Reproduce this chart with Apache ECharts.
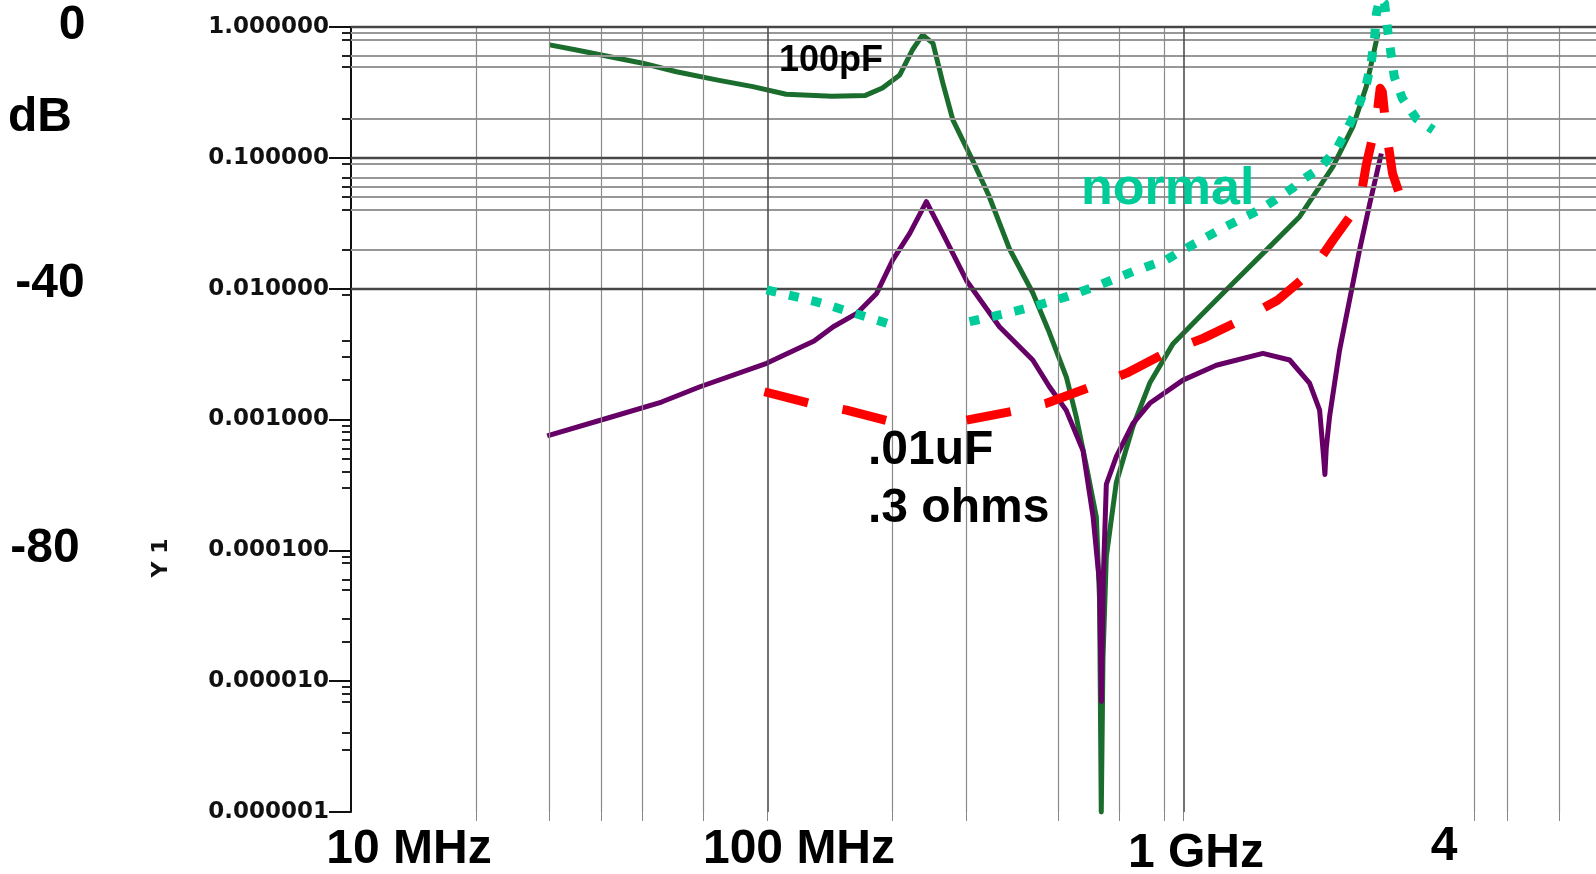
<!DOCTYPE html>
<html>
<head>
<meta charset="utf-8">
<title>Y1 vs frequency</title>
<script src="https://cdn.jsdelivr.net/npm/echarts@6/dist/echarts.min.js"></script>
<style>
  html, body { margin: 0; padding: 0; background: #fff; }
  #chart { width: 1596px; height: 874px; }
</style>
</head>
<body>
<div id="chart"></div>
<script>
// frequency in MHz, Y1 as a plain ratio (log axes)

// grid lines / ticks
const yMajor = [1, 0.1, 0.01, 0.001, 0.0001, 0.00001, 0.000001];
const yMinor = [
  0.9, 0.8, 0.6, 0.5, 0.2,
  0.09, 0.07, 0.06, 0.05, 0.04, 0.02,
  0.009, 0.004, 0.003, 0.002,
  0.0009, 0.0008, 0.0007, 0.0006, 0.0005, 0.0004, 0.0003,
  0.00009, 0.00008, 0.00006, 0.00005, 0.00003, 0.00002,
  0.000009, 0.000008, 0.000007, 0.000004, 0.000003
];
const xMajor = [100, 1000];
const xMinor = [20, 30, 40, 50, 70, 200, 300, 500, 700, 900, 5000, 6000, 8000];

// 100pF curve (green)
const greenFreq = [30, 34.8, 41.9, 50.2, 60.5, 75.5, 92.3, 111, 143, 172, 189, 208, 223, 236, 250, 264, 279, 311,
  340, 382, 434, 476, 523, 552, 584, 617, 628, 634, 640, 652, 689, 755, 829, 943, 1092, 1313, 1579, 1899,
  2283, 2550, 2745, 2930];
const greenY1 = [0.73, 0.667, 0.593, 0.528, 0.455, 0.394, 0.35, 0.306, 0.295, 0.30, 0.342, 0.43, 0.667, 0.87, 0.75,
  0.373, 0.195, 0.096, 0.052, 0.020, 0.0093, 0.0046, 0.0021, 0.00105, 0.00044, 0.00018, 0.000042, 0.000001,
  0.000015, 0.00009, 0.00033, 0.00088, 0.0019, 0.0038, 0.0061, 0.011, 0.0197, 0.0355, 0.0855, 0.173, 0.35, 0.90];

// purple curve
const purpleFreq = [29.6, 42, 55.7, 68.9, 99.6, 129.5, 144, 164, 183, 200, 220, 241, 264, 301, 361, 434, 476, 522,
  573, 606, 628, 634.5, 641, 652, 689, 755, 829, 996, 1198, 1550, 1797, 2006, 2121, 2170, 2184, 2200, 2241,
  2369, 2503, 2646, 2800, 2984];
const purpleY1 = [0.00075, 0.00104, 0.00136, 0.00178, 0.00269, 0.00398, 0.00512, 0.00647, 0.0092, 0.0165, 0.0266,
  0.0462, 0.0263, 0.0115, 0.00512, 0.00285, 0.00178, 0.00118, 0.00058, 0.00018, 0.000056, 0.000007, 0.00006,
  0.00032, 0.00052, 0.00093, 0.00133, 0.0020, 0.0026, 0.0032, 0.00285, 0.0019, 0.00118, 0.0005, 0.00038,
  0.0006, 0.00105, 0.0034, 0.0082, 0.0198, 0.045, 0.108];

// "normal" (dotted), drawn in two pieces
const normalFreqA = [99.6, 130, 144, 200];
const normalY1A = [0.0098, 0.0080, 0.00728, 0.00527];
const normalFreqB = [306, 361, 434.5, 523, 628, 755, 908, 978, 1230, 1541, 1824, 1899, 2121, 2323, 2477, 2617,
  2745, 2823, 2874, 2904, 2960, 3037, 3090, 3147, 3205, 3352, 3620, 3976];
const normalY1B = [0.00559, 0.0063, 0.00728, 0.00868, 0.01067, 0.0135, 0.0166, 0.0191, 0.0286, 0.0409, 0.0585,
  0.0657, 0.083, 0.115, 0.168, 0.239, 0.36, 0.543, 0.82, 1.27, 1.65, 1.52, 0.95, 0.63, 0.417, 0.285, 0.2, 0.163];

// .01uF / .3 ohms (dashed), two pieces
const capFreqA = [98.4, 126.5, 155, 198.6];
const capY1A = [0.00163, 0.00133, 0.00118, 0.00096];
const capFreqB = [301, 385, 468, 600, 729, 917, 1113, 1401, 1684, 2025, 2283, 2646, 2745, 2900, 2965, 3000,
  3073, 3174, 3294, 3484];
const capY1B = [0.00099, 0.00115, 0.00133, 0.00178, 0.00226, 0.0033, 0.00417, 0.00593, 0.0082, 0.0135, 0.0235,
  0.0449, 0.088, 0.189, 0.34, 0.32, 0.154, 0.076, 0.0536, 0.0388];

const dbLabels = ['0', 'dB', '-40', '-80'];
const freqLabels = ['10 MHz', '100 MHz', '1 GHz', '4'];

const GREEN = '#1b6d2d';
const PURPLE = '#660066';
const TEAL = '#00cc99';
const RED = '#ff0000';

const pairs = (xs, ys) => xs.map((x, i) => [x, ys[i]]);

const chart = echarts.init(document.getElementById('chart'));

const gridLines = [
  ...yMinor.map(v => ({ yAxis: v, lineStyle: { color: '#979797', width: 2, type: 'solid' } })),
  ...xMinor.map(v => ({ xAxis: v, lineStyle: { color: '#8a8a8a', width: 1.2, type: 'solid' } })),
  ...xMajor.map(v => ({ xAxis: v, lineStyle: { color: '#4e4e4e', width: 1.6, type: 'solid' } })),
  ...yMajor.map(v => ({ yAxis: v, lineStyle: { color: '#474747', width: 2.4, type: 'solid' } }))
];

const curve = (data, color, width, z, dash) => ({
  type: 'line',
  data,
  z,
  clip: false,
  showSymbol: false,
  symbol: 'none',
  silent: true,
  lineStyle: { color, width, type: dash || 'solid', cap: 'butt', join: 'round' }
});

const bigFont = 'bold 48px "Liberation Sans", Arial, sans-serif';
const txt = (text, x, y, font, color, align) => ({
  type: 'text',
  x, y,
  silent: true,
  z: 50,
  style: {
    text, font, fill: color || '#000',
    textAlign: align || 'center', align: align || 'center',
    textVerticalAlign: 'middle', verticalAlign: 'middle'
  }
});

const option = {
  animation: false,
  backgroundColor: '#fff',
  grid: { left: 351, top: 27, width: 1249, height: 785, outerBoundsMode: 'none' },
  xAxis: {
    type: 'log',
    logBase: 10,
    min: 10,
    max: 10000,
    axisLine: { show: false },
    axisLabel: { show: false },
    axisTick: { show: true, length: 9, customValues: [...xMajor, ...xMinor], lineStyle: { color: '#888', width: 1 } },
    splitLine: { show: false }
  },
  yAxis: [
    {
      type: 'log',
      logBase: 10,
      min: 0.000001,
      max: 1,
      position: 'left',
      axisLine: { show: true, onZero: false, lineStyle: { color: '#111', width: 2 } },
      axisTick: { show: true, length: 22, customValues: yMajor, lineStyle: { color: '#111', width: 2 } },
      axisLabel: {
        show: true,
        customValues: yMajor,
        margin: 22,
        formatter: v => Number(v).toFixed(6),
        fontFamily: 'DejaVu Sans',
        fontWeight: 'bold',
        fontSize: 23,
        color: '#111'
      },
      splitLine: { show: false }
    },
    {
      type: 'log',
      logBase: 10,
      min: 0.000001,
      max: 1,
      position: 'left',
      offset: 0,
      axisLine: { show: false },
      axisTick: { show: true, length: 9, customValues: yMinor, lineStyle: { color: '#222', width: 2 } },
      axisLabel: { show: false },
      splitLine: { show: false }
    }
  ],
  series: [
    {
      name: 'grid',
      type: 'line',
      data: [[10, 0.000001]],
      showSymbol: false,
      silent: true,
      z: 1,
      lineStyle: { opacity: 0 },
      markLine: {
        silent: true,
        animation: false,
        symbol: ['none', 'none'],
        label: { show: false },
        emphasis: { disabled: true },
        data: gridLines
      }
    },
    curve(pairs(greenFreq, greenY1), GREEN, 5, 3),
    curve(pairs(purpleFreq, purpleY1), PURPLE, 5, 4),
    curve(pairs(normalFreqA, normalY1A), TEAL, 9, 5, [10, 13]),
    curve(pairs(normalFreqB, normalY1B), TEAL, 9, 5, [10, 13]),
    curve(pairs(capFreqA, capY1A), RED, 9, 6, [45, 35]),
    curve(pairs(capFreqB, capY1B), RED, 9, 6, [45, 35])
  ],
  graphic: [
    txt(dbLabels[0], 72, 26, bigFont),
    txt(dbLabels[1], 40, 118, bigFont),
    txt(dbLabels[2], 50, 284, bigFont),
    txt(dbLabels[3], 45, 549, bigFont),
    txt(freqLabels[0], 409, 850, bigFont),
    txt(freqLabels[1], 799, 850, bigFont),
    txt(freqLabels[2], 1196, 854, bigFont),
    txt(freqLabels[3], 1444, 847, bigFont),
    txt('100pF', 779, 61, 'bold 36px "Liberation Sans", Arial, sans-serif', '#000', 'left'),
    txt('.01uF', 868, 451, bigFont, '#000', 'left'),
    txt('.3 ohms', 868, 509, bigFont, '#000', 'left'),
    txt('normal', 1081, 190, 'bold 52px "Liberation Sans", Arial, sans-serif', TEAL, 'left'),
    Object.assign(txt('Y 1', 161, 558, 'bold 22px "DejaVu Sans", sans-serif', '#111'), { rotation: Math.PI / 2 })
  ]
};

chart.setOption(option);
</script>
</body>
</html>
